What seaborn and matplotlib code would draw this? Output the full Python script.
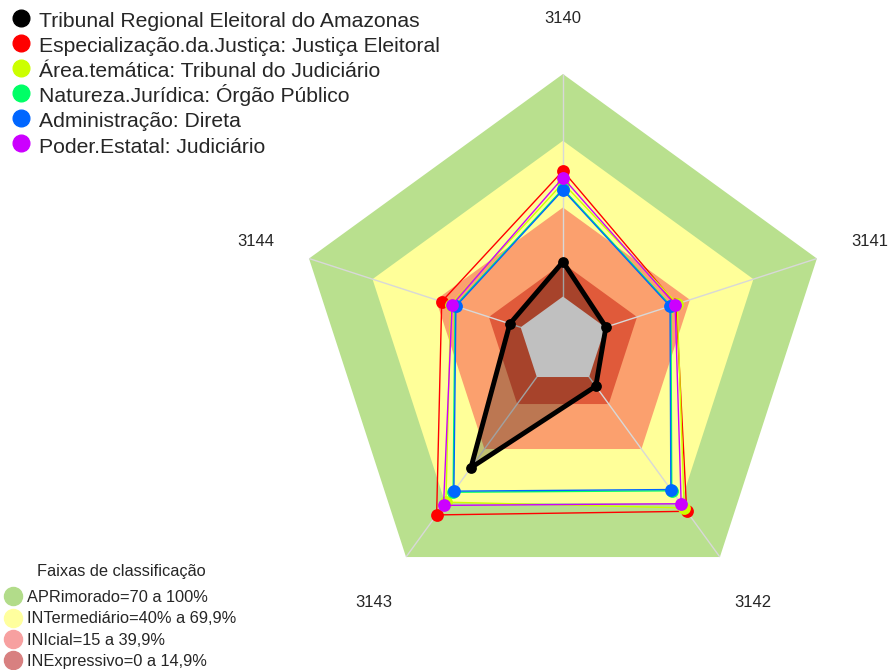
import numpy as np
import pandas as pd
import seaborn as sns
import matplotlib.pyplot as plt
from matplotlib.lines import Line2D

# eixos do radar
eixos = ['3140', '3141', '3142', '3143', '3144']

series = ['Tribunal Regional Eleitoral do Amazonas',
          'Especialização.da.Justiça: Justiça Eleitoral',
          'Área.temática: Tribunal do Judiciário',
          'Natureza.Jurídica: Órgão Público',
          'Administração: Direta',
          'Poder.Estatal: Judiciário']
cores = ['#000000', '#FF0000', '#CCFF00', '#00FF66', '#0066FF', '#CC00FF']

tribunal = [15.6, 0.3, 5.1, 50.4, 5.1]
especializacao = [56.5, 33.5, 74.6, 76.6, 37.3]
area_tematica = [51.0, 34.0, 72.7, 69.5, 33.0]
natureza = [48.4, 31.0, 63.2, 64.0, 31.0]
administracao = [47.9, 30.6, 62.5, 63.4, 30.6]
poder = [53.4, 33.0, 70.4, 71.3, 32.4]

# faixas de classificacao (limite superior de cada faixa)
faixas = ['APRimorado=70 a 100%', 'INTermediário=40% a 69,9%',
          'INIcial=15 a 39,9%', 'INExpressivo=0 a 14,9%']
faixa_max = [100, 70, 40, 15]
faixa_cor = ['#B9E08E', '#FFFF99', '#FBA06E', '#E05A3A']
faixa_cor_leg = ['#B2DC8A', '#FFFF9E', '#F7A0A0', '#D88080']

sns.set_style('white')
plt.rcParams['font.family'] = ['Liberation Sans', 'DejaVu Sans']

valores = [tribunal, especializacao, area_tematica, natureza, administracao, poder]
theta = np.linspace(0, 2 * np.pi, len(eixos), endpoint=False)
theta_f = np.append(theta, theta[0])

rows = []
for s, v in zip(series, valores):
    for t, e, x in zip(theta_f, eixos + [eixos[0]], v + [v[0]]):
        rows.append({'serie': s, 'eixo': e, 'theta': t, 'valor': x})
df = pd.DataFrame(rows)

fig = plt.figure(figsize=(8.89, 6.7), dpi=100)
ax = fig.add_axes([0.3329, 0.0925, 0.6007, 0.797], projection='polar')
ax.set_theta_offset(np.pi / 2)
ax.set_theta_direction(-1)
ax.set_ylim(-20, 100)
ax.grid(False)
ax.set_xticks([])
ax.set_yticks([])
ax.spines['polar'].set_visible(False)
ax.patch.set_alpha(0)

for m, c in zip(faixa_max, faixa_cor):
    ax.fill(theta_f, [m] * len(theta_f), color=c, lw=0, zorder=1)

for t in theta:
    ax.plot([t, t], [0, 100], color='#D8D8D8', lw=1, zorder=2)

# area do tribunal
ax.fill(theta_f, tribunal + [tribunal[0]], color='black', alpha=0.25, lw=0, zorder=3)
# centro cinza
ax.fill(theta_f, [0] * len(theta_f), color='#C0C0C0', lw=0, zorder=4)

ordem = series[1:] + series[:1]
for i, s in enumerate(ordem):
    d = df[df['serie'] == s]
    c = cores[series.index(s)]
    preto = s == series[0]
    sns.lineplot(data=d, x='theta', y='valor', sort=False, estimator=None,
                 color=c, lw=3.5 if preto else 1, ax=ax, zorder=5 + i)
    sns.scatterplot(data=d.iloc[:-1], x='theta', y='valor', color=c,
                    s=60 if preto else 85, linewidth=0, ax=ax, zorder=5 + i)
ax.set_xlabel('')
ax.set_ylabel('')

for t, e in zip(theta, eixos):
    ax.text(t, 125, e, ha='center', va='center', fontsize=12)

h1 = [Line2D([], [], ls='', marker='o', ms=12, color=c) for c in cores]
leg1 = fig.legend(h1, series, loc='upper left', bbox_to_anchor=(0.0, 1.005),
                  frameon=False, fontsize=15.2, handlelength=0.8,
                  handleheight=1.22, handletextpad=0.45, labelspacing=0.14,
                  borderaxespad=0.2)

h2 = [Line2D([], [], ls='', marker='o', ms=13, color=c) for c in faixa_cor_leg]
leg2 = fig.legend(h2, faixas, loc='lower left', bbox_to_anchor=(0.0, -0.008),
                  frameon=False, fontsize=11.8, title='Faixas de classificação',
                  title_fontsize=11.8, handlelength=0.8, handletextpad=0.45,
                  labelspacing=0.38, borderaxespad=0.0)
leg2._legend_box.sep = 8

fig.savefig('out.png', dpi=100)
